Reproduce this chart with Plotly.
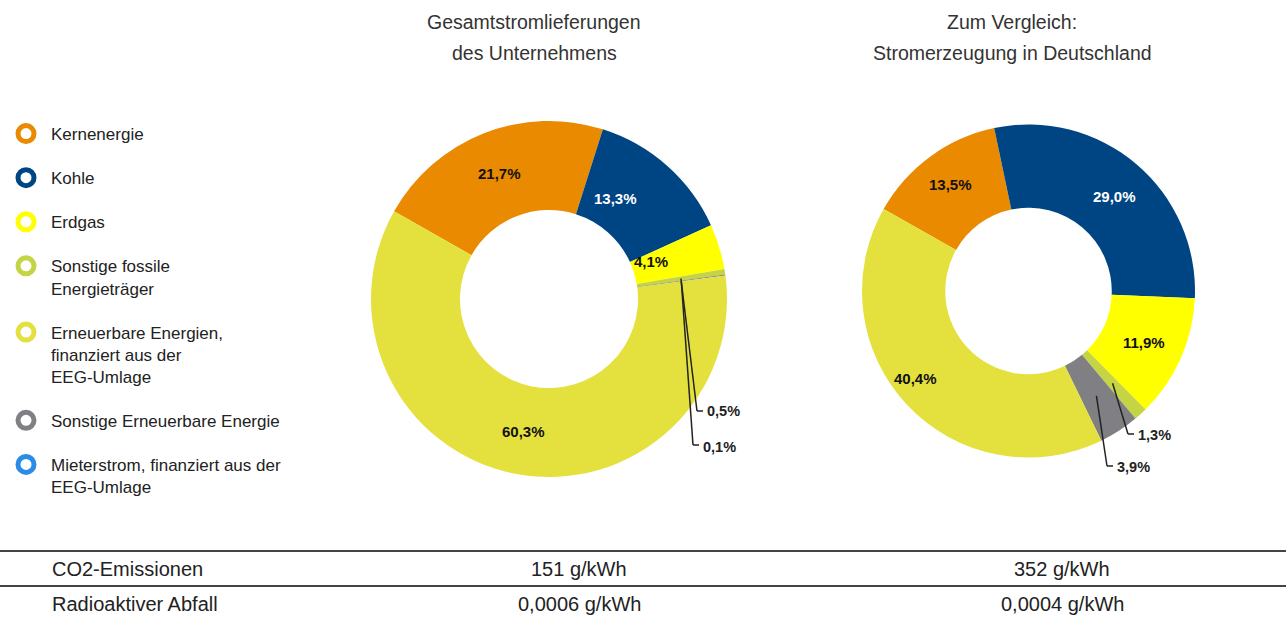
import math
import plotly.graph_objects as go

W, H = 1286, 617

# ---------------- data ----------------
categories = [
    "Kernenergie",
    "Kohle",
    "Erdgas",
    "Sonstige fossile Energieträger",
    "Erneuerbare Energien, finanziert aus der EEG-Umlage",
    "Sonstige Erneuerbare Energie",
    "Mieterstrom, finanziert aus der EEG-Umlage",
]
legend_labels = [
    "Kernenergie",
    "Kohle",
    "Erdgas",
    "Sonstige fossile<br>Energieträger",
    "Erneuerbare Energien,<br>finanziert aus der<br>EEG-Umlage",
    "Sonstige Erneuerbare Energie",
    "Mieterstrom, finanziert aus der<br>EEG-Umlage",
]
company_values = [21.7, 13.3, 4.1, 0.5, 60.3, 0.1, 0.0]
germany_values = [13.5, 29.0, 11.9, 1.3, 40.4, 3.9, 0.0]
pie_order = [0, 1, 2, 3, 5, 4]  # clockwise order of the slices

colors = ["#E98A00", "#004583", "#FFFF00", "#C5D443", "#E4E13E", "#808084", "#2A8CE6"]
label_colors = ["#111111", "#FFFFFF", "#111111", "#111111", "#111111", "#111111", "#111111"]

title_company = ["Gesamtstromlieferungen", "des Unternehmens"]
title_germany = ["Zum Vergleich:", "Stromerzeugung in Deutschland"]

table_rows = ["CO2-Emissionen", "Radioaktiver Abfall"]
table_company = ["151 g/kWh", "0,0006 g/kWh"]
table_germany = ["352 g/kWh", "0,0004 g/kWh"]

# ---------------- layout helpers ----------------
ROT = -60.5
HOLE = 0.5
MIN_INSIDE = 4.0
LABEL_R = 0.76


def px(x):
    return x / W


def py(y):
    return 1 - y / H


def fmt(v):
    return f"{v:.1f}".replace(".", ",") + "%"


pies = [
    dict(values=company_values, cx=549, cy=299, r=178, titles=title_company, tx=534,
         # label placement tweaks: category index -> (angle shift deg, radius fraction)
         tweaks={1: (-8, 0.68), 2: (-3, 0.61)},
         # elbow/label positions (px) for small slices, by category index
         callouts={3: (697, 411, 411), 5: (693, 445, 447)}),
    dict(values=germany_values, cx=1028.5, cy=291, r=166.5, titles=title_germany, tx=1012,
         tweaks={1: (2, 0.77), 4: (5.6, 0.86), 0: (0, 0.79)},
         callouts={3: (1128, 434, 435), 5: (1107, 466, 467)}),
]

fig = go.Figure()
annotations = []
shapes = []

for p in pies:
    vals = [p["values"][i] for i in pie_order]
    fig.add_trace(go.Pie(
        labels=[categories[i] for i in pie_order],
        values=vals,
        text=[fmt(v) for v in vals],
        textinfo="none",
        marker=dict(colors=[colors[i] for i in pie_order], line=dict(width=0)),
        hole=HOLE,
        sort=False,
        direction="clockwise",
        rotation=ROT,
        showlegend=False,
        hoverinfo="label+text",
        domain=dict(x=[px(p["cx"] - p["r"]), px(p["cx"] + p["r"])],
                    y=[py(p["cy"] + p["r"]), py(p["cy"] - p["r"])]),
    ))

    total = sum(vals)
    cum = 0.0
    for idx, v in zip(pie_order, vals):
        mid = ROT + 360 * (cum + v / 2) / total
        if v >= MIN_INSIDE:
            dang, rf = p["tweaks"].get(idx, (0, LABEL_R))
            a = math.radians(mid + dang)
            lx = p["cx"] + rf * p["r"] * math.sin(a)
            ly = p["cy"] - rf * p["r"] * math.cos(a)
            annotations.append(dict(x=px(lx), y=py(ly), xref="paper", yref="paper",
                                    text="<b>" + fmt(v) + "</b>", showarrow=False,
                                    xanchor="center", yanchor="middle",
                                    font=dict(family="Arial", size=15, color=label_colors[idx])))
        elif idx in p["callouts"]:
            a = math.radians(mid)
            rr = 0.75 * p["r"]
            sx = p["cx"] + rr * math.sin(a)
            sy = p["cy"] - rr * math.cos(a)
            ex, ey, ly = p["callouts"][idx]
            shapes.append(dict(type="line", xref="paper", yref="paper",
                               x0=px(sx), y0=py(sy), x1=px(ex), y1=py(ey),
                               line=dict(color="#222222", width=1.5)))
            shapes.append(dict(type="line", xref="paper", yref="paper",
                               x0=px(ex), y0=py(ey), x1=px(ex + 6), y1=py(ey),
                               line=dict(color="#222222", width=1.5)))
            annotations.append(dict(x=px(ex + 8), y=py(ly), xref="paper", yref="paper",
                                    text="<b>" + fmt(v) + "</b>", showarrow=False,
                                    xanchor="left", yanchor="middle",
                                    font=dict(family="Arial", size=14.5, color="#222222")))
        cum += v

    # titles
    for k, t in enumerate(p["titles"]):
        annotations.append(dict(x=px(p["tx"]), y=py(22 + 31 * k), xref="paper", yref="paper",
                                text=t, showarrow=False, xanchor="center", yanchor="middle",
                                font=dict(family="Arial", size=19.5, color="#333333")))

# legend entries (ring symbols)
for i in range(len(categories)):
    fig.add_trace(go.Scatter(
        x=[None], y=[None], mode="markers", name=legend_labels[i],
        legendgroup=str(i),
        marker=dict(symbol="circle-open", size=16, color=colors[i],
                    line=dict(width=5, color=colors[i])),
        hoverinfo="skip",
    ))

# table
for yline in (551, 586):
    shapes.append(dict(type="line", xref="paper", yref="paper", x0=0, x1=1,
                       y0=py(yline), y1=py(yline), line=dict(color="#444444", width=2)))
for k, (name, a, b) in enumerate(zip(table_rows, table_company, table_germany)):
    yy = py(569 + 35 * k)
    annotations.append(dict(x=px(50), y=yy, xref="paper", yref="paper", text=name,
                            showarrow=False, xanchor="left", yanchor="middle",
                            font=dict(family="Arial", size=20, color="#222222")))
    annotations.append(dict(x=px(579), y=yy, xref="paper", yref="paper", text=a,
                            showarrow=False, xanchor="center", yanchor="middle",
                            font=dict(family="Arial", size=20, color="#222222")))
    annotations.append(dict(x=px(1062), y=yy, xref="paper", yref="paper", text=b,
                            showarrow=False, xanchor="center", yanchor="middle",
                            font=dict(family="Arial", size=20, color="#222222")))

fig.update_layout(
    width=W, height=H,
    margin=dict(l=0, r=0, t=0, b=0),
    paper_bgcolor="white", plot_bgcolor="white",
    xaxis=dict(visible=False), yaxis=dict(visible=False),
    showlegend=True,
    legend=dict(x=px(1), y=py(116), xanchor="left", yanchor="top",
                font=dict(family="Arial", size=17, color="#222222"),
                tracegroupgap=19, valign="top", traceorder="grouped",
                itemwidth=40, bgcolor="rgba(0,0,0,0)"),
    annotations=annotations,
    shapes=shapes,
)

fig.write_html("out.html", config={"displayModeBar": False},
               post_script="document.body.style.margin='0';")
